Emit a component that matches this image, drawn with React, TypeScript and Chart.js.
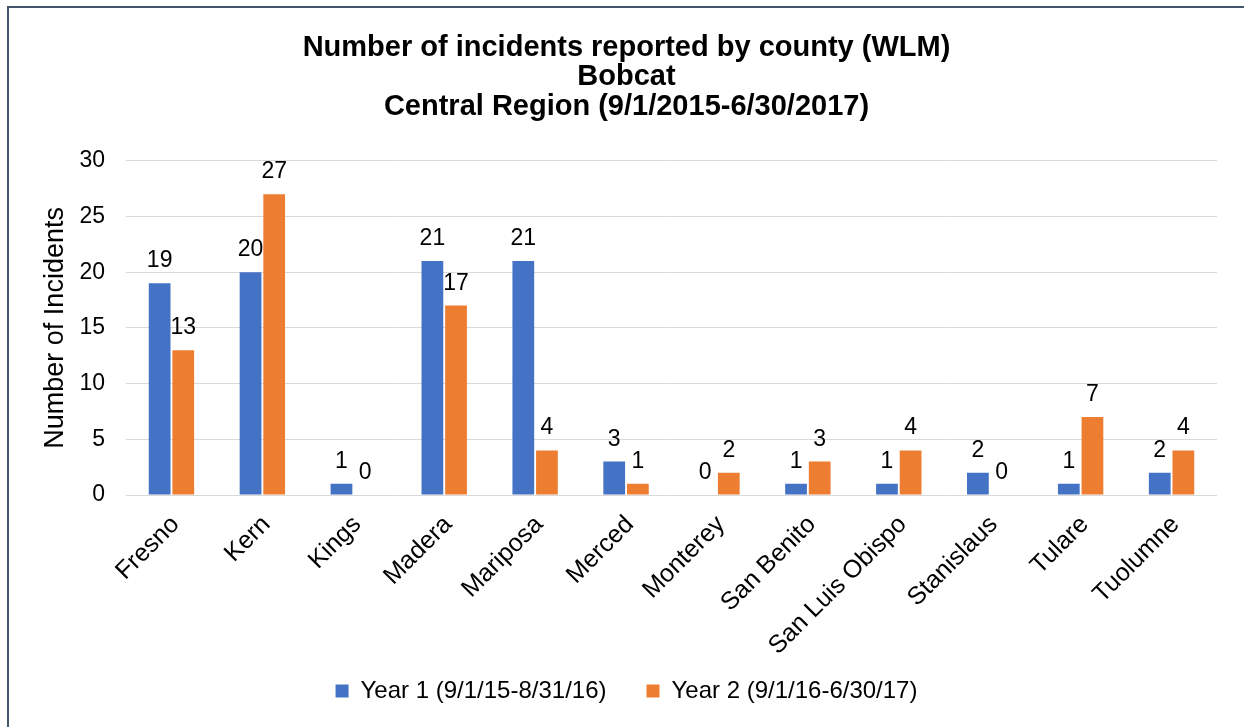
import React, { useEffect, useRef } from "react";
import { Chart, registerables } from "chart.js";

Chart.register(...registerables);

const categories = [
  "Fresno", "Kern", "Kings", "Madera", "Mariposa", "Merced",
  "Monterey", "San Benito", "San Luis Obispo", "Stanislaus", "Tulare", "Tuolumne",
];
const year1 = [19, 20, 1, 21, 21, 3, 0, 1, 1, 2, 1, 2];
const year2 = [13, 27, 0, 17, 4, 1, 2, 3, 4, 0, 7, 4];
const seriesNames = ["Year 1 (9/1/15-8/31/16)", "Year 2 (9/1/16-6/30/17)"];
const titleLines = [
  "Number of incidents reported by county (WLM)",
  "Bobcat",
  "Central Region (9/1/2015-6/30/2017)",
];
const yTicks = [0, 5, 10, 15, 20, 25, 30];

const FONT = "'Liberation Sans', Arial, sans-serif";

const dataLabels = {
  id: "dataLabels",
  afterDatasetsDraw(chart: any) {
    const ctx = chart.ctx;
    ctx.save();
    ctx.font = `23px ${FONT}`;
    ctx.fillStyle = "#000";
    ctx.textAlign = "center";
    ctx.textBaseline = "alphabetic";
    chart.data.datasets.forEach((ds: any, i: number) => {
      const meta = chart.getDatasetMeta(i);
      meta.data.forEach((bar: any, j: number) => {
        ctx.fillText(String(ds.data[j]), bar.x, bar.y - 16);
      });
    });
    ctx.restore();
  },
};

export default function App() {
  const ref = useRef<HTMLCanvasElement>(null);
  useEffect(() => {
    if (!ref.current) return;
    const chart = new Chart(ref.current, {
      type: "bar",
      data: {
        labels: categories,
        datasets: [
          { label: seriesNames[0], data: year1, backgroundColor: "#4472C4" },
          { label: seriesNames[1], data: year2, backgroundColor: "#ED7D31" },
        ],
      },
      options: {
        animation: false,
        responsive: false,
        maintainAspectRatio: false,
        layout: { padding: { left: 0, right: 0, top: 0, bottom: 14 } },
        datasets: { bar: { categoryPercentage: 0.52, barPercentage: 0.92 } },
        plugins: {
          title: {
            display: true,
            text: titleLines,
            color: "#000",
            font: { family: FONT, size: 29, weight: "bold", lineHeight: 1.02 },
            padding: { top: 25, bottom: 39 },
          },
          legend: {
            position: "bottom",
            labels: {
              color: "#000",
              font: { family: FONT, size: 24 },
              boxWidth: 13,
              boxHeight: 13,
              padding: 40,
            },
          },
          tooltip: { enabled: false },
        },
        scales: {
          x: {
            grid: { display: false },
            border: { display: false },
            afterFit: (scale: any) => {
              scale.height = 144;
              scale._computeLabelArea = () => undefined;
            },
            ticks: {
              color: "#000",
              font: { family: FONT, size: 25 },
              minRotation: 45,
              maxRotation: 45,
              padding: 7,
              labelOffset: 4,
              autoSkip: false,
            },
          },
          y: {
            min: 0,
            max: 30,
            afterBuildTicks: (scale: any) => {
              scale.ticks = yTicks.map((v) => ({ value: v }));
            },
            afterFit: (scale: any) => {
              scale.width = 117;
            },
            grid: { color: "#d9d9d9", lineWidth: 1, drawTicks: false },
            border: { display: false },
            ticks: {
              color: "#000",
              font: { family: FONT, size: 23 },
              padding: 21,
            },
            title: {
              display: true,
              text: "Number of Incidents",
              color: "#000",
              font: { family: FONT, size: 27 },
              padding: { top: 30, bottom: 0 },
            },
          },
          yRight: {
            position: "right",
            grid: { display: false },
            border: { display: false },
            ticks: { display: false },
            afterFit: (scale: any) => {
              scale.width = 27;
            },
          },
        },
      },
      plugins: [dataLabels],
    });
    return () => chart.destroy();
  }, []);

  return (
    <div style={{ position: "fixed", left: 0, top: 0, width: 1244, height: 727, background: "#fff", overflow: "hidden" }}>
      <div
        style={{
          position: "absolute",
          left: 7,
          top: 6,
          width: 1300,
          height: 800,
          borderLeft: "2px solid #44546A",
          borderTop: "2px solid #44546A",
        }}
      />
      <canvas
        ref={ref}
        width={1235}
        height={719}
        style={{ position: "absolute", left: 9, top: 8, width: 1235, height: 719 }}
      />
    </div>
  );
}
